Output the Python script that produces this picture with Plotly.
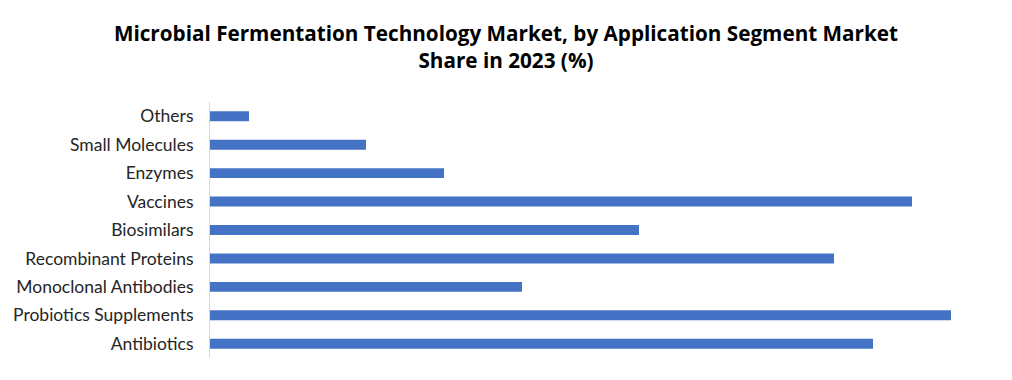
import plotly.graph_objects as go

categories = ["Antibiotics", "Probiotics Supplements", "Monoclonal Antibodies",
              "Recombinant Proteins", "Biosimilars", "Vaccines", "Enzymes",
              "Small Molecules", "Others"]
shares = [17, 19, 8, 16, 11, 18, 6, 4, 1]

fig = go.Figure(go.Bar(
    x=shares, y=categories, orientation="h",
    marker=dict(color="#4472C4", line=dict(width=0)),
    hoverinfo="x+y",
))

fig.update_layout(
    width=1004, height=372,
    paper_bgcolor="white", plot_bgcolor="white",
    margin=dict(l=202, r=22, t=94, b=22),
    bargap=0.65,
    showlegend=False,
    title=dict(
        text="Microbial Fermentation Technology Market, by Application Segment Market<br>Share in 2023 (%)",
        x=0.496, xanchor="center", y=0.911, yanchor="middle",
        font=dict(family="Open Sans", size=20.7, color="black", weight="bold"),
    ),
    font=dict(family="Lato", size=17.5, color="#262626"),
)
fig.update_xaxes(range=[0, 20], showticklabels=False, showgrid=False,
                 zeroline=False, showline=False, ticks="", automargin=False)
fig.update_yaxes(showgrid=False, showline=True, linecolor="#D9D9D9", linewidth=1,
                 ticks="", ticklabelstandoff=12, automargin=False,
                 tickfont=dict(family="Lato", size=17.5, color="#262626"))

fig.write_html("out.html")
